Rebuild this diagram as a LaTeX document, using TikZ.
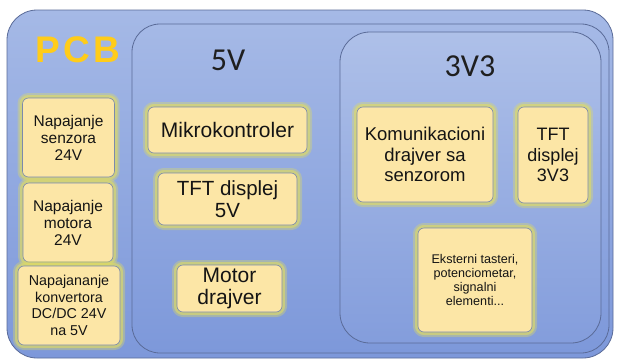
\documentclass[tikz,border=0pt]{standalone}
\usepackage{fontspec}
\setmainfont{Liberation Sans}
\newfontfamily\calib{Carlito}
\newfontfamily\pcbfont[LetterSpace=9]{Liberation Sans Bold}
\definecolor{bgtop}{HTML}{A5B9E6}
\definecolor{bgbot}{HTML}{7D98DA}
\definecolor{edge}{HTML}{5A6B98}
\definecolor{yfill}{HTML}{FCE6A6}
\definecolor{glow}{HTML}{E0DC62}
\definecolor{pcbyel}{HTML}{FFCC1A}
\tikzset{
  cont/.style={draw=edge, line width=0.8pt, top color=bgtop, bottom color=bgbot},
  ybox/.style={draw=edge!80, line width=0.6pt, fill=yfill, rounded corners=6pt,
    align=center, inner sep=2pt, text=black!92,
    preaction={draw=glow, line width=10pt, opacity=0.35, rounded corners=6pt},
    preaction={draw=glow, line width=6pt, opacity=0.6, rounded corners=6pt}},
  vlabel/.style={font=\calib\fontsize{32}{32}\selectfont, text=black!88}
}
\begin{document}
\begin{tikzpicture}[x=1pt,y=-1pt]
\useasboundingbox (0,0) rectangle (619,362);
\fill[white] (0,0) rectangle (619,362);
% containers
\draw[cont, rounded corners=30pt] (7,10) rectangle (613,358);
\node[anchor=center] (pcb) at (78,50) {\pcbfont\fontsize{37}{37}\selectfont\color{pcbyel}PCB};
\draw[cont, rounded corners=28pt] (132,24) rectangle (609,353);
\node[vlabel] (v5) at (228,60) {5V};
\draw[cont, rounded corners=30pt, top color=bgtop!90!white, bottom color=bgbot!95!white] (340,32) rectangle (601,343);
\node[vlabel] (v33) at (470,66) {3V3};
% left column
\node[ybox, minimum width=92, minimum height=79, font=\fontsize{15.5}{17}\selectfont] (ns) at (68.5,137.5) {Napajanje\\senzora\\24V};
\node[ybox, minimum width=90, minimum height=79, font=\fontsize{15.5}{17}\selectfont] (nm) at (68,222.5) {Napajanje\\motora\\24V};
\node[ybox, minimum width=102, minimum height=79, font=\fontsize{14.3}{16.5}\selectfont] (nk) at (69,305.5) {Napajananje\\konvertora\\DC/DC 24V\\na 5V};
% 5V column
\node[ybox, minimum width=159, minimum height=46, font=\fontsize{21}{22}\selectfont] (mk) at (227.5,130) {Mikrokontroler};
\node[ybox, minimum width=139, minimum height=52, font=\fontsize{20.5}{22}\selectfont] (tft5) at (227.5,199) {TFT displej\\5V};
\node[ybox, minimum width=105, minimum height=47, font=\fontsize{21}{22}\selectfont] (md) at (229.5,288.5) {Motor\\drajver};
% 3V3 column
\node[ybox, minimum width=136, minimum height=95, font=\fontsize{18.5}{20.5}\selectfont] (kd) at (425,154.5) {Komunikacioni\\drajver sa\\senzorom};
\node[ybox, minimum width=70, minimum height=96, font=\fontsize{18}{20.5}\selectfont] (tft33) at (553,155) {TFT\\displej\\3V3};
\node[ybox, minimum width=114, minimum height=104, font=\fontsize{12.6}{14}\selectfont] (ek) at (475,280) {Eksterni tasteri,\\potenciometar,\\signalni\\elementi...};
\end{tikzpicture}
\end{document}
